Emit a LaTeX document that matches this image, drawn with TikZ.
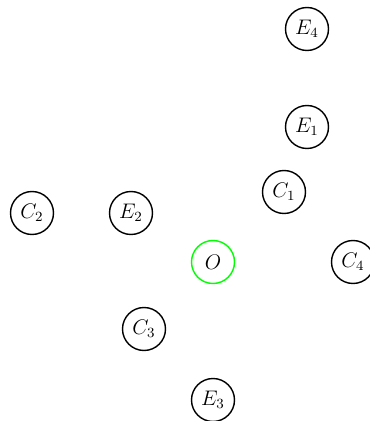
\documentclass[tikz,border=0pt]{standalone}
\usetikzlibrary{calc}
\definecolor{OriginClr}{rgb}{0,1,0}
\tikzset{pt/.style={circle,draw=black,thick,minimum size=0.86cm,inner sep=0pt,font=\large}}

\begin{document}
\begin{tikzpicture}[x=0.02cm,y=-0.02cm]
\useasboundingbox (0,0) rectangle (369,421);

\node[pt,draw=OriginClr] (O) at (213,262) {$O$};

\node[pt] (E4) at (307,29) {$E_4$};
\node[pt] (E1) at (307,127) {$E_1$};
\node[pt] (C1) at (284,192) {$C_1$};
\node[pt] (C2) at (32,213) {$C_2$};
\node[pt] (E2) at (131,213) {$E_2$};
\node[pt] (C4) at (353,262) {$C_4$};
\node[pt] (C3) at (144,329) {$C_3$};
\node[pt] (E3) at (213,400) {$E_3$};

\end{tikzpicture}
\end{document}
